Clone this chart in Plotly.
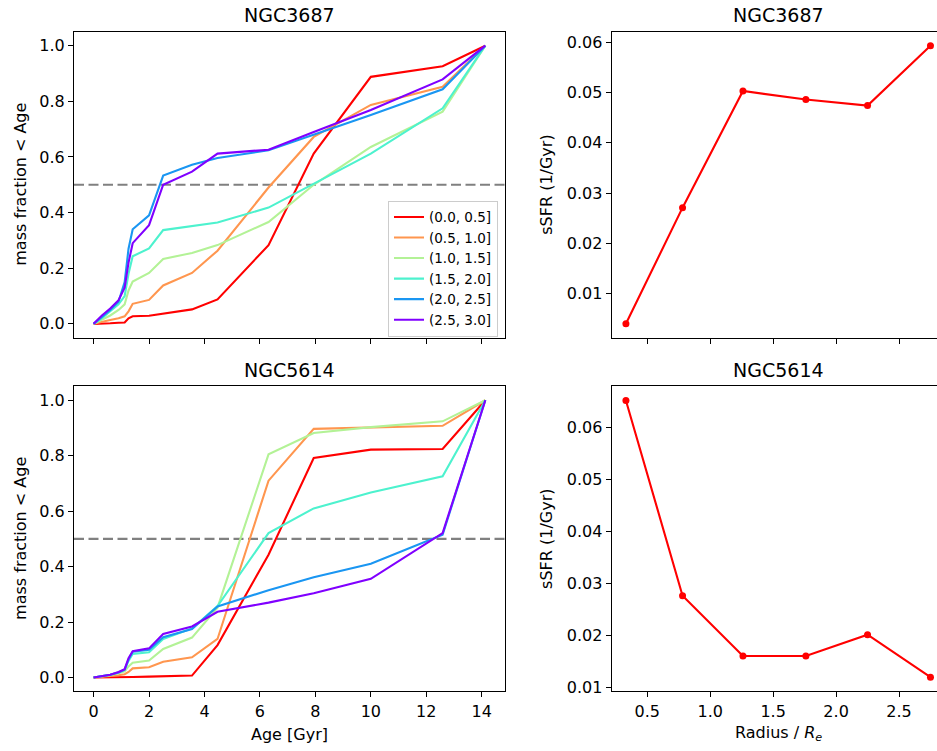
import plotly.graph_objects as go

# ---------------- data ----------------
ages = [0.0, 0.3, 0.6, 0.9, 1.12, 1.26, 1.41, 2.0, 2.51, 3.55, 4.47, 6.31, 7.94, 10.0, 12.59, 14.13]
bins = ["(0.0, 0.5]", "(0.5, 1.0]", "(1.0, 1.5]", "(1.5, 2.0]", "(2.0, 2.5]", "(2.5, 3.0]"]

ngc3687_r0 = [0, 0, 0.002, 0.004, 0.005, 0.02, 0.027, 0.029, 0.036, 0.052, 0.088, 0.283, 0.612, 0.888, 0.926, 1.0]
ngc3687_r1 = [0, 0.008, 0.014, 0.02, 0.027, 0.045, 0.072, 0.086, 0.138, 0.183, 0.263, 0.49, 0.672, 0.787, 0.852, 1.0]
ngc3687_r2 = [0, 0.015, 0.03, 0.05, 0.07, 0.12, 0.152, 0.183, 0.233, 0.255, 0.283, 0.366, 0.50, 0.636, 0.763, 1.0]
ngc3687_r3 = [0, 0.02, 0.045, 0.07, 0.1, 0.18, 0.243, 0.271, 0.337, 0.35, 0.364, 0.418, 0.505, 0.612, 0.775, 1.0]
ngc3687_r4 = [0, 0.025, 0.05, 0.08, 0.15, 0.27, 0.34, 0.39, 0.533, 0.572, 0.596, 0.624, 0.68, 0.751, 0.843, 1.0]
ngc3687_r5 = [0, 0.03, 0.055, 0.085, 0.13, 0.22, 0.29, 0.355, 0.50, 0.547, 0.612, 0.626, 0.69, 0.769, 0.879, 1.0]

ngc5614_r0 = [0, 0, 0, 0, 0, 0.001, 0.002, 0.003, 0.004, 0.007, 0.117, 0.443, 0.792, 0.822, 0.824, 1.0]
ngc5614_r1 = [0, 0.002, 0.005, 0.008, 0.012, 0.02, 0.033, 0.037, 0.057, 0.073, 0.139, 0.71, 0.897, 0.903, 0.908, 1.0]
ngc5614_r2 = [0, 0.004, 0.008, 0.015, 0.022, 0.04, 0.053, 0.061, 0.103, 0.144, 0.252, 0.805, 0.882, 0.903, 0.924, 1.0]
ngc5614_r3 = [0, 0.005, 0.01, 0.018, 0.028, 0.06, 0.085, 0.091, 0.139, 0.177, 0.258, 0.521, 0.61, 0.667, 0.726, 1.0]
ngc5614_r4 = [0, 0.005, 0.01, 0.018, 0.028, 0.065, 0.093, 0.1, 0.145, 0.175, 0.256, 0.315, 0.362, 0.41, 0.515, 1.0]
ngc5614_r5 = [0, 0.005, 0.01, 0.02, 0.03, 0.07, 0.095, 0.105, 0.157, 0.184, 0.237, 0.27, 0.304, 0.356, 0.521, 1.0]

radius = [0.33, 0.78, 1.26, 1.76, 2.25, 2.75]
ssfr_ngc3687 = [0.0040, 0.0271, 0.0503, 0.0486, 0.0474, 0.0593]
ssfr_ngc5614 = [0.0652, 0.0276, 0.0160, 0.0160, 0.0201, 0.0119]

half_mass = 0.5

# ---------------- style ----------------
colors = ["rgb(255,0,0)", "rgb(255,150,79)", "rgb(179,242,150)",
          "rgb(77,242,206)", "rgb(26,150,242)", "rgb(128,0,255)"]
FONT = "DejaVu Sans"
W, H = 937, 751
TICK = 16
LABEL = 16
TITLE = 19

def px_x(p):
    return p / W

def px_y(p):
    return 1 - p / H

fig = go.Figure()

top_series = [ngc3687_r0, ngc3687_r1, ngc3687_r2, ngc3687_r3, ngc3687_r4, ngc3687_r5]
bot_series = [ngc5614_r0, ngc5614_r1, ngc5614_r2, ngc5614_r3, ngc5614_r4, ngc5614_r5]

for i, ys in enumerate(top_series):
    fig.add_trace(go.Scatter(x=ages, y=ys, mode="lines", name=bins[i],
                             line=dict(color=colors[i], width=2.1),
                             xaxis="x", yaxis="y", showlegend=True))
for i, ys in enumerate(bot_series):
    fig.add_trace(go.Scatter(x=ages, y=ys, mode="lines", name=bins[i],
                             line=dict(color=colors[i], width=2.1),
                             xaxis="x3", yaxis="y3", showlegend=False))

fig.add_trace(go.Scatter(x=radius, y=ssfr_ngc3687, mode="lines+markers",
                         line=dict(color="red", width=2.1),
                         marker=dict(color="red", size=7),
                         xaxis="x2", yaxis="y2", showlegend=False))
fig.add_trace(go.Scatter(x=radius, y=ssfr_ngc5614, mode="lines+markers",
                         line=dict(color="red", width=2.1),
                         marker=dict(color="red", size=7),
                         xaxis="x4", yaxis="y4", showlegend=False))

# dashed half-mass lines
for yref, xref in (("y", "x domain"), ("y3", "x3 domain")):
    fig.add_shape(type="line", xref=xref, yref=yref, x0=0, x1=1,
                  y0=half_mass, y1=half_mass,
                  line=dict(color="gray", width=2.1, dash="10px,4.5px"),
                  layer="below")

base_axis = dict(showline=True, linecolor="black", linewidth=1.1,
                 ticks="outside", ticklen=5, tickwidth=1.1, tickcolor="black",
                 showgrid=False, zeroline=False,
                 tickfont=dict(family=FONT, size=TICK, color="black"))

left_dom = [px_x(74), px_x(505)]
right_dom = [px_x(611.7), 1.0]
top_dom = [px_y(340), px_y(32)]
bot_dom = [px_y(696), px_y(389)]

age_ticks = [0, 2, 4, 6, 8, 10, 12, 14]
frac_ticks = [0.0, 0.2, 0.4, 0.6, 0.8, 1.0]
rad_ticks = [0.5, 1.0, 1.5, 2.0, 2.5]
ssfr_ticks = [0.01, 0.02, 0.03, 0.04, 0.05, 0.06]

fig.update_layout(
    autosize=True,
    margin=dict(l=0, r=0, t=0, b=0),
    paper_bgcolor="white", plot_bgcolor="white",
    font=dict(family=FONT, size=LABEL, color="black"),
    xaxis=dict(base_axis, domain=left_dom, anchor="y", range=[-0.707, 14.84],
               tickvals=age_ticks, showticklabels=False, mirror=True),
    yaxis=dict(base_axis, domain=top_dom, anchor="x", range=[-0.05, 1.05],
               tickvals=frac_ticks, tickformat=".1f", mirror=True),
    xaxis3=dict(base_axis, domain=left_dom, anchor="y3", range=[-0.707, 14.84],
                tickvals=age_ticks, mirror=True),
    yaxis3=dict(base_axis, domain=bot_dom, anchor="x3", range=[-0.05, 1.05],
                tickvals=frac_ticks, tickformat=".1f", mirror=True),
    xaxis2=dict(base_axis, domain=right_dom, anchor="y2", range=[0.217, 2.802],
                tickvals=rad_ticks, showticklabels=False, mirror=True),
    yaxis2=dict(base_axis, domain=top_dom, anchor="x2", range=[0.00123, 0.06207],
                tickvals=ssfr_ticks, tickformat=".2f"),
    xaxis4=dict(base_axis, domain=right_dom, anchor="y4", range=[0.217, 2.802],
                tickvals=rad_ticks, tickformat=".1f", mirror=True),
    yaxis4=dict(base_axis, domain=bot_dom, anchor="x4", range=[0.00918, 0.0679],
                tickvals=ssfr_ticks, tickformat=".2f"),
    legend=dict(x=px_x(498), y=px_y(202), xanchor="right", yanchor="top",
                bgcolor="rgba(255,255,255,0.8)", bordercolor="#cccccc",
                borderwidth=1, font=dict(family=FONT, size=13.5, color="black"),
                tracegroupgap=0),
)

ann = []
def add_text(text, x, y, size=LABEL, angle=0):
    ann.append(dict(text=text, x=px_x(x), y=px_y(y), xref="paper", yref="paper",
                    xanchor="center", yanchor="middle", showarrow=False,
                    textangle=angle, font=dict(family=FONT, size=size, color="black")))

add_text("NGC3687", 289.5, 15, size=TITLE)
add_text("NGC3687", 778.7, 15, size=TITLE)
add_text("NGC5614", 289.5, 372, size=TITLE)
add_text("NGC5614", 778.7, 372, size=TITLE)
add_text("mass fraction &lt; Age", 21, 186, angle=-90)
add_text("mass fraction &lt; Age", 21, 542.5, angle=-90)
add_text("sSFR (1/Gyr)", 547, 186, angle=-90)
add_text("sSFR (1/Gyr)", 547, 542.5, angle=-90)
add_text("Age [Gyr]", 289.5, 739)
add_text("Radius / <i>R</i><sub><i>e</i></sub>", 778.7, 738)
fig.update_layout(annotations=ann)

fig.write_html("out.html", config={"displayModeBar": False, "responsive": True},
               default_width="100vw", default_height="100vh",
               post_script="document.body.style.margin='0';document.body.style.overflow='hidden';")
